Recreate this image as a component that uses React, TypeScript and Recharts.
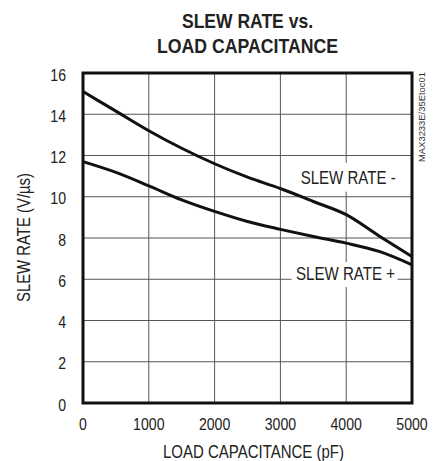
import { LineChart, Line, XAxis, YAxis, CartesianGrid, ReferenceArea, ReferenceDot, Label } from "recharts";

const FONT = "'Liberation Sans', Arial, sans-serif";
const INK = "#222";

const capacitance = [0, 500, 1000, 1500, 2000, 2500, 3000, 3500, 4000, 4500, 5000];
const slewRateMinus = [15.1, 14.15, 13.2, 12.35, 11.6, 10.95, 10.4, 9.77, 9.13, 8.1, 7.1];
const slewRatePlus = [11.7, 11.18, 10.53, 9.85, 9.29, 8.8, 8.42, 8.07, 7.75, 7.35, 6.7];
const xTicks = [0, 1000, 2000, 3000, 4000, 5000];
const yTicks = [0, 2, 4, 6, 8, 10, 12, 14, 16];

const data = capacitance.map((c, i) => ({ c, minus: slewRateMinus[i], plus: slewRatePlus[i] }));

// narrow-ish text: squeeze Liberation Sans to an Arial Narrow look
const digitW = 7.85;

const XTick = (props: any) => {
  const { x, payload } = props;
  const s = String(payload.value);
  return (
    <text x={x} y={430} textAnchor="middle" textLength={s.length * digitW} lengthAdjust="spacingAndGlyphs" fontFamily={FONT} fontSize={17} fill={INK}>
      {s}
    </text>
  );
};

const YTick = (props: any) => {
  const { y, payload } = props;
  const s = String(payload.value);
  return (
    <text x={66} y={y + 7.5} textAnchor="end" textLength={s.length * digitW} lengthAdjust="spacingAndGlyphs" fontFamily={FONT} fontSize={17} fill={INK}>
      {s}
    </text>
  );
};

const curveLabel = (text: string, len: number, box: { x: number; y: number; w: number; h: number }) => (props: any) => {
  const { cx, cy } = props;
  return (
    <g>
      <rect x={cx + box.x} y={cy + box.y} width={box.w} height={box.h} fill="#fff" />
      <text x={cx - len / 2} y={cy + 7} textLength={len} lengthAdjust="spacingAndGlyphs" fontFamily={FONT} fontSize={18} fill={INK}>
        {text}
      </text>
    </g>
  );
};

const xLabel = () => (
  <text x={163} y={458} textLength={181} lengthAdjust="spacingAndGlyphs" fontFamily={FONT} fontSize={18} fill={INK}>
    LOAD CAPACITANCE (pF)
  </text>
);

const yLabel = () => (
  <text x={0} y={0} transform="translate(30, 302) rotate(-90)" textLength={129} lengthAdjust="spacingAndGlyphs" fontFamily={FONT} fontSize={18} fill={INK}>
    SLEW RATE (V/µs)
  </text>
);

export default function App() {
  return (
    <div style={{ position: "absolute", left: 0, top: 0, width: 445, height: 461, background: "#fff" }}>
      <LineChart
        width={445}
        height={461}
        data={data}
        margin={{ top: 73, right: 33, bottom: 0, left: 0 }}
        style={{ position: "absolute", left: 0, top: 0 }}
      >
        <CartesianGrid stroke="#555" strokeWidth={1} horizontalValues={yTicks} verticalValues={xTicks} />
        <XAxis dataKey="c" type="number" domain={[0, 5000]} ticks={xTicks} axisLine={false} tickLine={false} tick={XTick} height={58}>
          <Label content={xLabel} />
        </XAxis>
        <YAxis type="number" domain={[0, 16]} ticks={yTicks} axisLine={false} tickLine={false} tick={YTick} width={83}>
          <Label content={yLabel} />
        </YAxis>
        <ReferenceDot x={4030} y={10.95} r={0} shape={curveLabel("SLEW RATE -", 95, { x: -52, y: -14.5, w: 104, h: 29 })} ifOverflow="visible" />
        <ReferenceDot x={3990} y={6.3} r={0} shape={curveLabel("SLEW RATE +", 99, { x: -54, y: -11, w: 106, h: 25 })} ifOverflow="visible" />
        <Line type="monotone" dataKey="minus" stroke="#111" strokeWidth={3} dot={false} isAnimationActive={false} />
        <Line type="monotone" dataKey="plus" stroke="#111" strokeWidth={3} dot={false} isAnimationActive={false} />
        <ReferenceArea x1={0} x2={5000} y1={0} y2={16} fill="none" stroke="#111" strokeWidth={3} ifOverflow="visible" />
      </LineChart>
      <svg width={445} height={461} style={{ position: "absolute", left: 0, top: 0, pointerEvents: "none" }}>
        <text x={182} y={28} textLength={131} lengthAdjust="spacingAndGlyphs" fontFamily={FONT} fontWeight="bold" fontSize={21} fill={INK}>
          SLEW RATE vs.
        </text>
        <text x={157} y={53} textLength={181} lengthAdjust="spacingAndGlyphs" fontFamily={FONT} fontWeight="bold" fontSize={21} fill={INK}>
          LOAD CAPACITANCE
        </text>
        <text x={0} y={0} transform="translate(425, 162) rotate(-90)" textLength={90} lengthAdjust="spacingAndGlyphs" fontFamily={FONT} fontSize={9} fill="#333">
          MAX3233E/35Etoc01
        </text>
      </svg>
    </div>
  );
}
